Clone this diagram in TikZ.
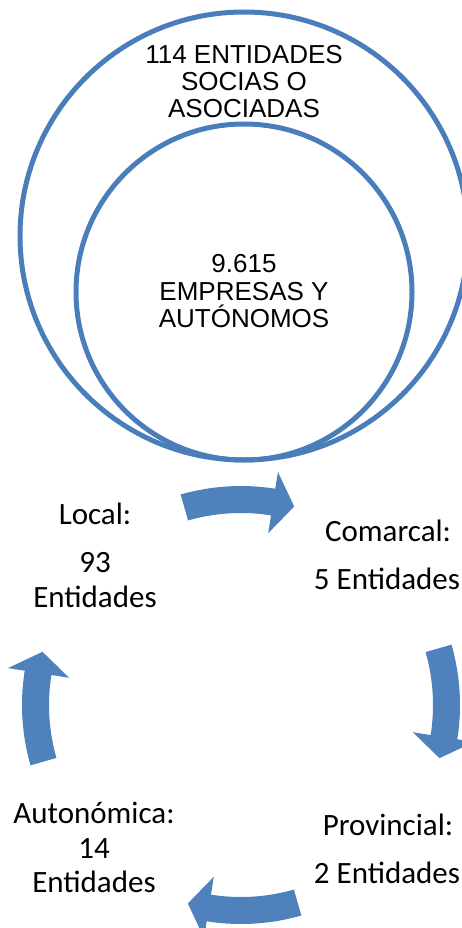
\documentclass[tikz,border=0pt]{standalone}
\usepackage{fontspec}
\setmainfont{Liberation Sans}
\newfontfamily\calib{Carlito}
\definecolor{ringblue}{RGB}{74,126,187}
\definecolor{arrowblue}{RGB}{79,129,189}
\begin{document}
\begin{tikzpicture}[x=1pt,y=-1pt,
  ring/.style={draw=ringblue,line width=5pt},
  arialtxt/.style={font=\fontsize{26}{27}\selectfont,anchor=base,inner sep=0pt},
  calitxt/.style={font=\calib\fontsize{31}{35}\selectfont,anchor=base,inner sep=0pt},
  cyclearrow/.style={fill=arrowblue,draw=none}]
\useasboundingbox (0,0) rectangle (462,928);
\clip (0,0) rectangle (462,928);
% circles
\node[ring,circle,minimum size=448pt,inner sep=0pt] (outer) at (244,236) {};
\node[ring,circle,minimum size=336pt,inner sep=0pt] (inner) at (244,292) {};
\node[arialtxt] (o1) at (244,63.3) {114 ENTIDADES};
\node[arialtxt] (o2) at (244,90.7) {SOCIAS O};
\node[arialtxt] (o3) at (244,118) {ASOCIADAS};
\node[arialtxt] (i1) at (244,272.7) {9.615};
\node[arialtxt] (i2) at (244,300) {EMPRESAS Y};
\node[arialtxt] (i3) at (244,327.7) {AUTÓNOMOS};
% cycle labels
\node[calitxt] (l1) at (95,524) {Local:};
\node[calitxt] (l2) at (95,572) {93};
\node[calitxt] (l3) at (95,607) {Entidades};
\node[calitxt] (c1) at (388,541) {Comarcal:};
\node[calitxt] (c2) at (387,589) {5 Entidades};
\node[calitxt] (p1) at (388,835) {Provincial:};
\node[calitxt] (p2) at (387,883) {2 Entidades};
\node[calitxt] (a1) at (94,823) {Autonómica:};
\node[calitxt] (a2) at (94,858) {14};
\node[calitxt] (a3) at (94,892) {Entidades};
% cycle arrows
\coordinate (cc) at (241,705);
\begin{scope}[shift={(cc)}]
\foreach \a in {-106,-16,74,164}{
  \path[cyclearrow]
    plot[domain=\a:\a+25,samples=20] (\x:219)
    -- (\a+25:236) -- (\a+31:205.5) -- (\a+25:174)
    -- plot[domain=\a+25:\a,samples=20] (\x:192) -- cycle;
}
\end{scope}
\end{tikzpicture}
\end{document}
